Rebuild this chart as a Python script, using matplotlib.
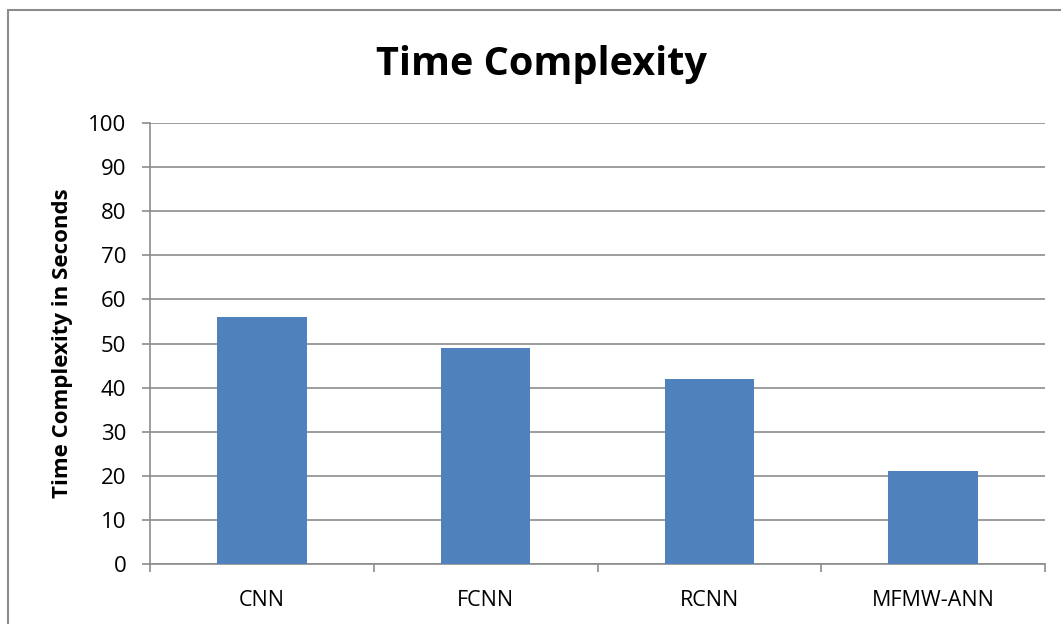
import matplotlib
matplotlib.use("Agg")
import matplotlib.pyplot as plt
from matplotlib.patches import Rectangle

categories = ["CNN", "FCNN", "RCNN", "MFMW-ANN"]
values = [56, 49, 42, 21]
yticks = [0, 10, 20, 30, 40, 50, 60, 70, 80, 90, 100]

plt.rcParams['font.family'] = ['Open Sans', 'DejaVu Sans']

W, H = 1061, 624
fig = plt.figure(figsize=(W/100, H/100), dpi=100)
ax = fig.add_axes([150/W, 1-564/H, (1045-150)/W, (564-123)/H])

x = list(range(len(categories)))
ax.bar(x, values, width=0.4, color="#4F81BD", zorder=3)
ax.set_xlim(-0.5, len(categories)-0.5)
ax.set_ylim(0, 100)
ax.set_yticks(yticks)
ax.set_yticklabels([str(v) for v in yticks], fontsize=16)
ax.yaxis.grid(True, color="#8c8c8c", linewidth=1.2, zorder=0)
ax.set_xticks(x)
ax.set_xticklabels(categories, fontsize=15.5)
ax.tick_params(axis='x', length=0, pad=19)
# category boundary ticks
ax.set_xticks([i - 0.5 for i in range(len(categories)+1)], minor=True)
ax.tick_params(axis='x', which='minor', length=6, color="#8c8c8c", width=1.2)
ax.tick_params(axis='y', length=6, color="#8c8c8c", width=1.2, pad=11)
for s in ["top", "right"]:
    ax.spines[s].set_visible(False)
for s in ["left", "bottom"]:
    ax.spines[s].set_color("#8c8c8c")
    ax.spines[s].set_linewidth(1.2)

ax.set_ylabel("Time Complexity in Seconds", fontsize=16, fontweight="bold", labelpad=11)
fig.text(541/W, 1-65/H, "Time Complexity", fontsize=28.5, fontweight="bold",
         ha="center", va="center")

fig.patches.append(Rectangle((8/W, -0.1), 1.2, 1.1 - 10/H + 0.0, transform=fig.transFigure,
                             fill=False, edgecolor="#8c8c8c", linewidth=1.5, figure=fig))

fig.savefig("out.png", dpi=100)
